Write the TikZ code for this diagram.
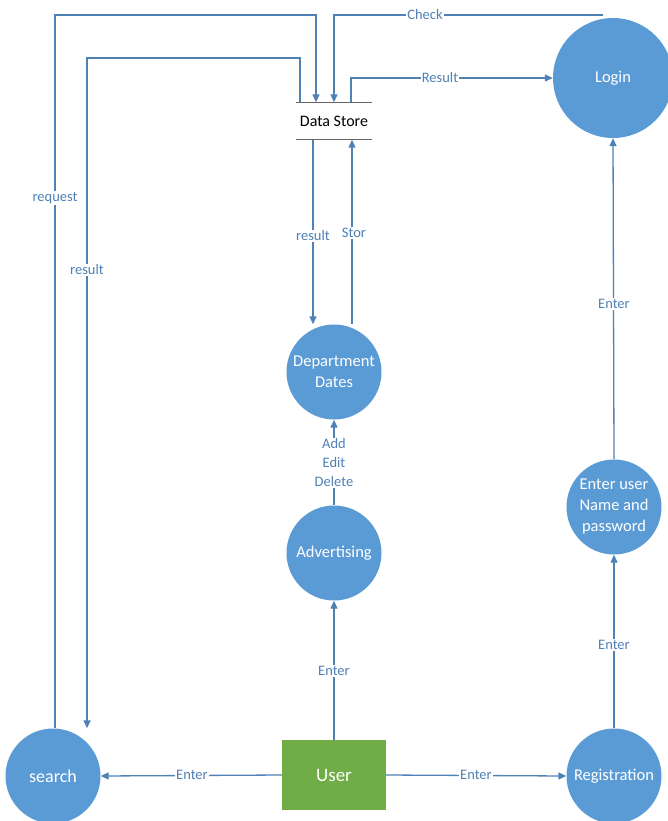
\documentclass[tikz,border=0pt]{standalone}
\usepackage{fontspec}
\setmainfont{Carlito}
\usepackage{xcolor}
\usepackage{tikz}
\usetikzlibrary{arrows.meta}
\definecolor{procblue}{HTML}{5B9BD5}
\definecolor{flowblue}{HTML}{4F81B5}
\definecolor{usergreen}{HTML}{70AD47}

\begin{document}
\begin{tikzpicture}[
        x=1pt, y=-1pt,
        process/.style={
            circle,
            fill=procblue,
            minimum size=95pt,
            inner sep=0pt,
            align=center,
            text=white,
            font=\fontsize{16.5}{21}\selectfont
        },
        entity/.style={
            rectangle,
            fill=usergreen,
            minimum width=104pt,
            minimum height=70pt,
            text=white,
            font=\fontsize{19}{22}\selectfont
        },
        flowlabel/.style={fill=white, inner sep=1pt, text=flowblue, align=center,
            font=\fontsize{14.5}{18}\selectfont},
        flow/.style={line width=1.3pt, draw=flowblue, -{Triangle[length=8pt, width=7pt]}}
    ]
        \useasboundingbox (0,0) rectangle (667,821);

        % processes
        \node[process, minimum size=120pt] (login) at (613,78) {Login};
        \node[process] (dept) at (334,372) {Department\\Dates};
        \node[process] (advert) at (334,553) {Advertising};
        \node[process] (namepass) at (614,507) {Enter user\\Name and\\password};
        \node[process, font=\fontsize{18}{21}\selectfont] (search) at (53,776) {search};
        \node[process] (regist) at (614,776) {Registration};
        \node[entity] (user) at (334,775) {User};

        % data store
        \node[font=\fontsize{16}{19}\selectfont, minimum width=75pt, minimum height=37pt] (store) at (334,121) {Data Store};
        \draw[line width=1pt, black!60] (store.north west) -- (store.north east);
        \draw[line width=1pt, black!60] (store.south west) -- (store.south east);

        % corner points of the long flows
        \coordinate (reqtop) at (55,15);
        \coordinate (restop) at (87,58);
        \coordinate (chk) at (603,15);

        % search <-> data store
        \draw[flow] (search.north -| reqtop) -- (reqtop) -- (316,15) -- (store.north -| 316,0);
        \node[flowlabel] (lreq) at (55,198) {request};
        \draw[flow] (store.north -| 300,0) -- (300,58) -- (restop) -- (search.north -| restop);
        \node[flowlabel] (lres) at (87,270) {result};

        % login <-> data store
        \draw[flow] (chk) -- (334,15) -- (store.north);
        \node[flowlabel] (lchk) at (425,15) {Check};
        \draw[flow] (store.north -| 351,0) -- (351,78) -- (login.west);
        \node[flowlabel] (lrsl) at (440,78) {Result};

        % data store <-> department dates
        \draw[flow] (store.south -| 313,0) -- (dept.north -| 313,0);
        \node[flowlabel] (ldres) at (313,236) {result};
        \draw[flow] (dept.north -| 352,0) -- (store.south -| 352,0);
        \node[flowlabel] (lstor) at (354,233) {Stor};

        % user side
        \draw[flow] (advert.north) -- (dept.south);
        \node[flowlabel, font=\fontsize{14.5}{19}\selectfont] (ledit) at (334,463) {Add\\Edit\\Delete};
        \draw[flow] (user.north) -- (advert.south);
        \node[flowlabel] (le1) at (334,671) {Enter};
        \draw[flow] (user.west) -- (search.east);
        \node[flowlabel] (le2) at (192,775) {Enter};
        \draw[flow] (user.east) -- (regist.west);
        \node[flowlabel] (le3) at (476,775) {Enter};
        \draw[flow] (regist.north) -- (namepass.south);
        \node[flowlabel] (le4) at (614,645) {Enter};
        \draw[flow] (namepass.north) -- (login.south);
        \node[flowlabel] (le5) at (614,304) {Enter};
    \end{tikzpicture}
\end{document}
